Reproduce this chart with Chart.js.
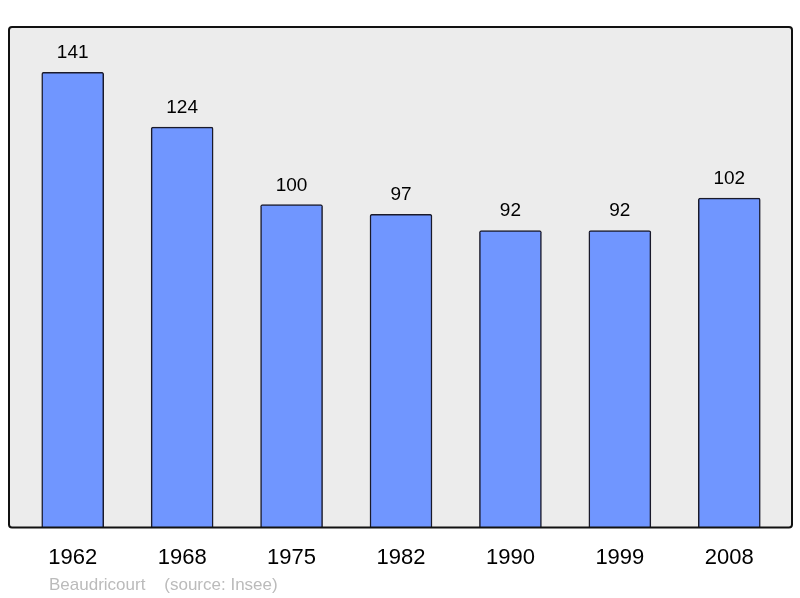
<!DOCTYPE html>
<html>
<head>
<meta charset="utf-8">
<script src="https://cdn.jsdelivr.net/npm/chart.js@4"></script>
<style>
  html, body { margin: 0; padding: 0; background: #fff; }
  #wrap { position: relative; width: 800px; height: 598px; }
</style>
</head>
<body>
<div id="wrap"><canvas id="chart" width="800" height="598"></canvas></div>
<script>
const years = ['1962', '1968', '1975', '1982', '1990', '1999', '2008'];
const population = [141, 124, 100, 97, 92, 92, 102];
const yMax = 155;
const footerText = 'Beaudricourt    (source: Insee)';

// gray panel with black frame, slightly wider than the chart area
const panelPlugin = {
    id: 'panel',
    beforeDatasetsDraw(chart) {
        const { ctx, chartArea } = chart;
        const x0 = chartArea.left - 9, x1 = chartArea.right + 8;
        const y0 = chartArea.top, y1 = chartArea.bottom;
        ctx.save();
        ctx.beginPath();
        ctx.roundRect(x0, y0, x1 - x0, y1 - y0, 3);
        ctx.fillStyle = '#ececec';
        ctx.fill();
        ctx.restore();
    },
    afterDatasetsDraw(chart) {
        const { ctx, chartArea } = chart;
        const x0 = chartArea.left - 9, x1 = chartArea.right + 8;
        const y0 = chartArea.top, y1 = chartArea.bottom;
        ctx.save();
        ctx.beginPath();
        ctx.roundRect(x0, y0, x1 - x0, y1 - y0, 3);
        ctx.lineWidth = 2;
        ctx.strokeStyle = '#111';
        ctx.stroke();

        // value labels above each bar
        const meta = chart.getDatasetMeta(0);
        ctx.font = '19px "Liberation Sans", Arial, sans-serif';
        ctx.fillStyle = '#000';
        ctx.textAlign = 'center';
        ctx.textBaseline = 'alphabetic';
        meta.data.forEach((bar, i) => {
            ctx.fillText(String(population[i]), bar.x, bar.y - 14);
        });

        // footer
        ctx.font = '17px "Liberation Sans", Arial, sans-serif';
        ctx.fillStyle = '#bbbbbb';
        ctx.textAlign = 'left';
        ctx.fillText(footerText, 49, 590);
        ctx.restore();
    }
};

new Chart(document.getElementById('chart'), {
    type: 'bar',
    data: {
        labels: years,
        datasets: [{
            data: population,
            backgroundColor: '#7096ff',
            borderColor: '#1a1a2a',
            borderWidth: 1.5,
            borderSkipped: 'bottom',
            borderRadius: 2,
            barThickness: 62
        }]
    },
    options: {
        responsive: false,
        animation: false,
        layout: { padding: { left: 18, right: 16, top: 27, bottom: 10 } },
        plugins: {
            legend: { display: false },
            tooltip: { enabled: false }
        },
        scales: {
            x: {
                offset: true,
                grid: { display: false, drawTicks: false },
                border: { display: false },
                ticks: {
                    color: '#000',
                    padding: 17,
                    font: { family: '"Liberation Sans", Arial, sans-serif', size: 22 }
                }
            },
            y: {
                display: false,
                min: 0,
                max: yMax
            }
        }
    },
    plugins: [panelPlugin]
});
</script>
</body>
</html>
